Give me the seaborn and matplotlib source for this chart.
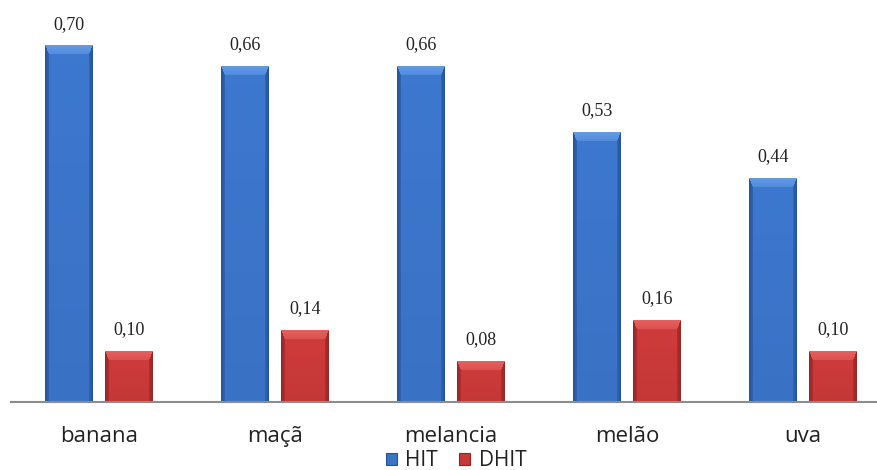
import numpy as np
import pandas as pd
import matplotlib
matplotlib.use("Agg")
import matplotlib.pyplot as plt
import matplotlib.colors as mcolors
from matplotlib.patches import Patch
import seaborn as sns

categories = ["banana", "maçã", "melancia", "melão", "uva"]
hit = [0.70, 0.66, 0.66, 0.53, 0.44]
dhit = [0.10, 0.14, 0.08, 0.16, 0.10]
series = ["HIT", "DHIT"]

df = pd.DataFrame({
    "categoria": categories * 2,
    "valor": hit + dhit,
    "serie": [series[0]] * len(categories) + [series[1]] * len(categories),
})

sns.set_theme(style="white")
plt.rcParams["font.family"] = ["Open Sans", "DejaVu Sans"]

fig = plt.figure(figsize=(8.78, 4.70), dpi=100)
ax = fig.add_axes([11 / 878, 68 / 470, 867 / 878, 402 / 470])

palette = {"HIT": "#3a72c4", "DHIT": "#c83838"}
shades = {
    "HIT": {"body": (60, 118, 204), "side": (38, 82, 150), "top": (100, 155, 230)},
    "DHIT": {"body": (204, 58, 58), "side": (150, 36, 36), "top": (230, 96, 96)},
}
sns.barplot(data=df, x="categoria", y="valor", hue="serie", palette=palette,
            width=0.68, gap=0.2, ax=ax, legend=False, saturation=1)

ax.set_xlim(-0.5, 4.426)
ax.set_ylim(0, 0.79)


def bevel_image(wpx, hpx, sh, side=4.0, top=9.0):
    rows = np.arange(hpx)[:, None] + 0.5
    cols = np.arange(wpx)[None, :] + 0.5
    dl = cols
    dr = wpx - cols
    dside = np.minimum(dl, dr)
    body = np.array(sh["body"]) / 255
    sidec = np.array(sh["side"]) / 255
    topc = np.array(sh["top"]) / 255
    vg = (rows / max(hpx, 1))
    img = np.broadcast_to(body * (1.02 - 0.06 * vg[..., None]), (hpx, wpx, 3)).copy()
    is_top = (rows < top) & (rows / top < dside / side)
    is_side = (dside < side) & ~is_top
    f = np.clip(dside / side, 0, 1)[..., None]
    sidefill = sidec * (1 - 0.5 * f) + body * 0.5 * f
    img = np.where(is_side[..., None], sidefill, img)
    tf = np.clip(rows / top, 0, 1)[..., None]
    topfill = topc * (1 - 0.4 * tf) + body * 0.4 * tf
    img = np.where(is_top[..., None], topfill, img)
    return np.clip(img, 0, 1)


for cont, name in zip(ax.containers, series):
    for p in cont.patches:
        x0, y0 = p.get_x(), p.get_y()
        w, h = p.get_width(), p.get_height()
        (px0, py0), (px1, py1) = ax.transData.transform([(x0, y0), (x0 + w, y0 + h)])
        wpx = max(int(round(px1 - px0)), 2)
        hpx = max(int(round(py1 - py0)), 2)
        img = bevel_image(wpx, hpx, shades[name])
        ax.imshow(img, aspect="auto", extent=[x0, x0 + w, y0, y0 + h],
                  zorder=p.get_zorder() + 0.1, interpolation="bilinear", origin="upper")
    labels = [f"{v:.2f}".replace(".", ",") for v in cont.datavalues]
    ax.bar_label(cont, labels=labels, padding=9.5, fontsize=13,
                 family=["Liberation Serif", "DejaVu Serif"], color="#222222")

ax.set_xlim(-0.5, 4.426)
ax.set_ylim(0, 0.79)

sns.despine(ax=ax, left=True, top=True, right=True)
ax.spines["bottom"].set_color("#8c8c8c")
ax.spines["bottom"].set_linewidth(1.5)
ax.spines["bottom"].set_zorder(5)
ax.set_yticks([])
ax.set_xlabel("")
ax.set_ylabel("")
ax.tick_params(axis="x", length=0, pad=17, labelsize=16, labelcolor="#222222")

handles = [Patch(facecolor=palette[s], edgecolor=np.array(shades[s]["side"]) / 255,
                 linewidth=0.8, label=s) for s in series]
fig.legend(handles=handles, loc="center", bbox_to_anchor=(456 / 878, 1 - 461 / 470),
           ncol=2, frameon=False, fontsize=15, handlelength=0.55, handleheight=0.55,
           handletextpad=0.4, columnspacing=1.0, borderpad=0, labelcolor="#222222")

fig.savefig("out.png", dpi=100)
